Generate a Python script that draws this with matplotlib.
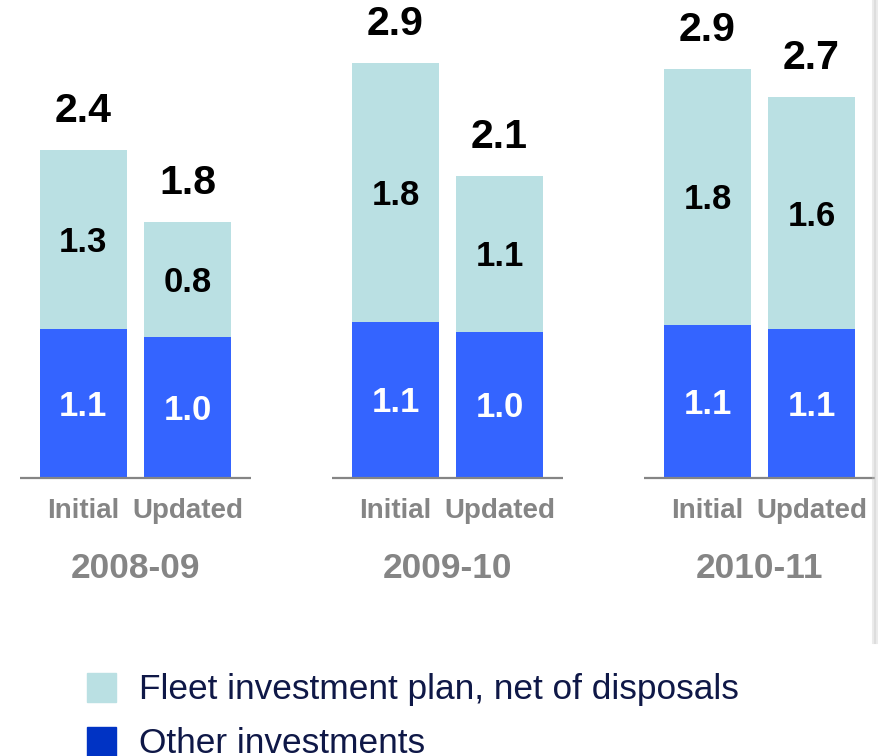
import matplotlib.pyplot as plt
from matplotlib.patches import Rectangle

plt.rcParams['font.family'] = ['Liberation Sans', 'DejaVu Sans']

years = ['2008-09', '2009-10', '2010-11']
versions = ['Initial', 'Updated']

# bar heights (bn), order: Initial, Updated per year
other = [1.05, 0.99, 1.10, 1.03, 1.08, 1.05]
fleet = [1.26, 0.81, 1.82, 1.10, 1.80, 1.63]

# printed labels
other_lbl = ['1.1', '1.0', '1.1', '1.0', '1.1', '1.1']
fleet_lbl = ['1.3', '0.8', '1.8', '1.1', '1.8', '1.6']
total_lbl = ['2.4', '1.8', '2.9', '2.1', '2.9', '2.7']

legend_labels = ['Fleet investment plan, net of disposals', 'Other investments']

C_FLEET = '#BAE0E3'
C_OTHER = '#3464FF'
C_OTHER_LEG = '#0033C4'
C_GREY = '#858585'
C_NAVY = '#0F1847'

W, H = 879, 756
fig = plt.figure(figsize=(W / 100, H / 100), dpi=100)
ax = fig.add_axes([0, 0, 1, 1])
ax.set_xlim(-0.434, 2.383)
ax.set_ylim(-1.958, 3.366)
ax.axis('off')


def label(x, y, s, size, **kw):
    # put the middle of the digits (cap height) at y
    ax.annotate(s, (x, y), xytext=(0, -0.358 * size), textcoords='offset points',
                ha='center', va='baseline', fontsize=size, fontweight='bold', **kw)


off = 0.1667
width = 0.279
xs = []
for g in range(len(years)):
    xs += [g - off, g + off]

ax.bar(xs, other, width, color=C_OTHER, zorder=2)
ax.bar(xs, fleet, width, bottom=other, color=C_FLEET, zorder=2)

for i, x in enumerate(xs):
    top = other[i] + fleet[i]
    label(x, other[i] / 2, other_lbl[i], 25, color='white')
    label(x, other[i] + fleet[i] / 2, fleet_lbl[i], 25, color='black')
    label(x, top + 0.30, total_lbl[i], 29.5, color='black')
    ax.text(x, -0.282, versions[i % 2], ha='center', va='baseline',
            color=C_GREY, fontsize=20, fontweight='bold')

for g, yr in enumerate(years):
    ax.plot([g - 0.37, g + 0.37], [0, 0], color=C_GREY, lw=1.6, zorder=3,
            solid_capstyle='butt')
    ax.text(g, -0.704, yr, ha='center', va='baseline',
            color=C_GREY, fontsize=25.4, fontweight='bold')

# legend drawn by hand in figure pixels
for k, (lab, col) in enumerate(zip(legend_labels, [C_FLEET, C_OTHER_LEG])):
    top_px = 673 + 54 * k
    fig.patches.append(Rectangle((87 / W, 1 - (top_px + 29) / H), 29 / W, 29 / H,
                                 transform=fig.transFigure, color=col))
    fig.text(139 / W, 1 - (top_px + 26) / H, lab, ha='left', va='baseline',
             color=C_NAVY, fontsize=25.4)

# faint shadow on the right edge
for dx, a in [(873, 0.35), (875, 0.6), (877, 0.35)]:
    fig.add_artist(plt.Line2D([dx / W, dx / W], [0.15, 1], transform=fig.transFigure,
                              color='#c8c8c8', lw=1.5, alpha=a))

fig.savefig('out.png', dpi=100)
